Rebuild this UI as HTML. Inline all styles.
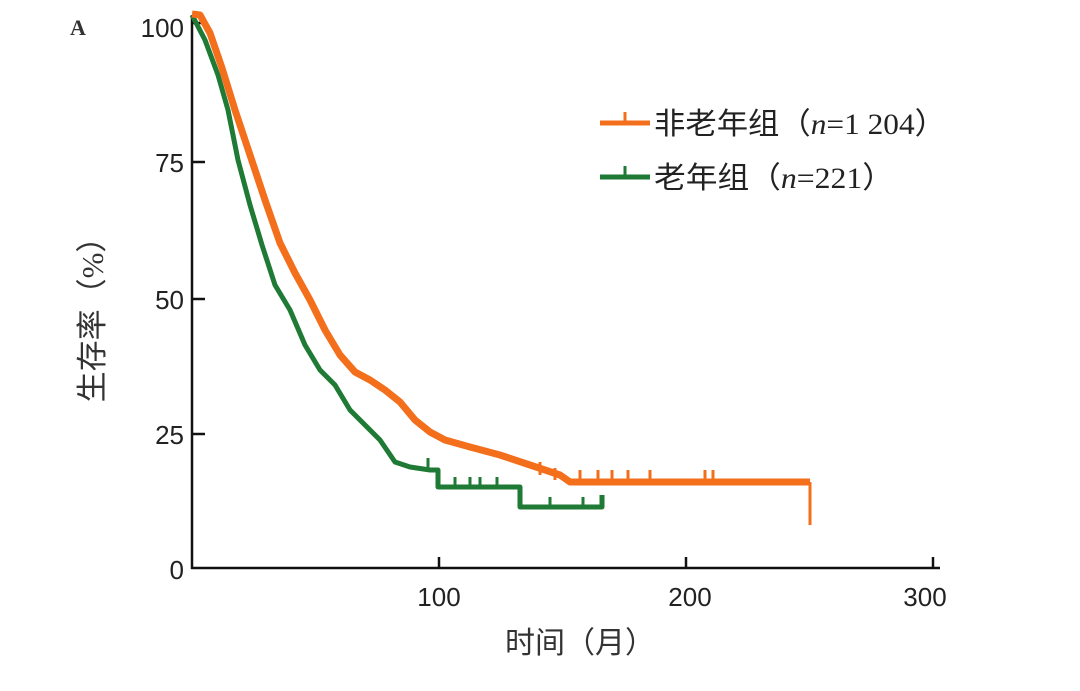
<!DOCTYPE html>
<html><head><meta charset="utf-8"><style>
body{margin:0;background:#fff;}
svg{display:block;font-family:"Liberation Serif","Noto Serif CJK SC",serif;}
</style></head><body>
<svg width="1080" height="691" viewBox="0 0 1080 691">
<rect width="1080" height="691" fill="#fff"/>
<text x="70" y="35" font-size="22" font-weight="bold" fill="#333">A</text>
<g stroke="#111" stroke-width="2.5" fill="none">
<line x1="192" y1="15" x2="192" y2="569"/>
<line x1="191" y1="568" x2="940" y2="568"/>
<line x1="192" y1="23" x2="205" y2="23"/>
<line x1="192" y1="162" x2="205" y2="162"/>
<line x1="192" y1="299" x2="205" y2="299"/>
<line x1="192" y1="434" x2="205" y2="434"/>
<line x1="439" y1="568" x2="439" y2="557"/>
<line x1="686" y1="568" x2="686" y2="557"/>
<line x1="933" y1="568" x2="933" y2="557"/>
</g>
<g font-size="26" fill="#222" text-anchor="end" font-family="Liberation Sans,sans-serif">
<text x="184" y="37">100</text><text x="184" y="172">75</text><text x="184" y="309">50</text><text x="184" y="444">25</text><text x="184" y="579">0</text>
</g>
<g font-size="26" fill="#222" text-anchor="middle" font-family="Liberation Sans,sans-serif">
<text x="439" y="606">100</text><text x="690" y="606">200</text><text x="925" y="606">300</text>
</g>
<text x="580" y="653" font-size="30" fill="#333" text-anchor="middle" font-family="Liberation Serif,'Noto Sans CJK SC',sans-serif">时间（月）</text>
<text transform="translate(103,312) rotate(-90)" font-size="31" fill="#333" text-anchor="middle" font-family="Liberation Serif,'Noto Sans CJK SC',sans-serif">生存率（%）</text>
<polyline fill="none" stroke="#1e7a34" stroke-width="5" stroke-linejoin="round" points="192,15 205,40 218,75 228,110 238,160 250,205 262,245 275,285 290,310 305,345 320,370 335,385 350,410 365,425 380,440 395,462 410,467 430,470 438,470 438,487 520,487 520,507 602,507 602,495"/>
<g stroke="#1e7a34" stroke-width="3"><line x1="455" y1="487" x2="455" y2="477"/><line x1="470" y1="487" x2="470" y2="477"/><line x1="480" y1="487" x2="480" y2="477"/><line x1="497" y1="487" x2="497" y2="477"/><line x1="550" y1="507" x2="550" y2="497"/><line x1="583" y1="507" x2="583" y2="497"/><line x1="428" y1="468" x2="428" y2="458"/></g>
<polyline fill="none" stroke="#f36f1c" stroke-width="7" stroke-linejoin="round" points="192,14 200,15 210,33 222,68 235,110 250,155 265,200 280,243 295,273 310,300 325,330 340,355 355,372 370,380 385,390 400,402 415,420 430,432 445,440 470,447 500,455 530,465 560,475 570,482 810,482"/>
<line x1="810" y1="482" x2="810" y2="525" stroke="#f36f1c" stroke-width="3"/>
<g stroke="#f36f1c" stroke-width="3"><line x1="540" y1="475" x2="540" y2="462"/><line x1="555" y1="480" x2="555" y2="468"/><line x1="580" y1="482" x2="580" y2="470"/><line x1="598" y1="482" x2="598" y2="470"/><line x1="612" y1="482" x2="612" y2="470"/><line x1="628" y1="482" x2="628" y2="470"/><line x1="650" y1="482" x2="650" y2="470"/><line x1="705" y1="482" x2="705" y2="470"/><line x1="713" y1="482" x2="713" y2="470"/></g>
<line x1="600" y1="123" x2="650" y2="123" stroke="#f36f1c" stroke-width="5"/><line x1="625" y1="123" x2="625" y2="112" stroke="#f36f1c" stroke-width="3"/>
<line x1="600" y1="177" x2="650" y2="177" stroke="#1e7a34" stroke-width="5"/><line x1="625" y1="177" x2="625" y2="166" stroke="#1e7a34" stroke-width="3"/>
<g font-size="30" fill="#222" font-family="Liberation Serif,'Noto Sans CJK SC',serif">
<text x="654" y="134" textLength="292" lengthAdjust="spacingAndGlyphs">非老年组（<tspan font-style="italic">n</tspan>=1 204）</text>
<text x="654" y="188" textLength="240" lengthAdjust="spacingAndGlyphs">老年组（<tspan font-style="italic">n</tspan>=221）</text>
</g>
</svg>
</body></html>
